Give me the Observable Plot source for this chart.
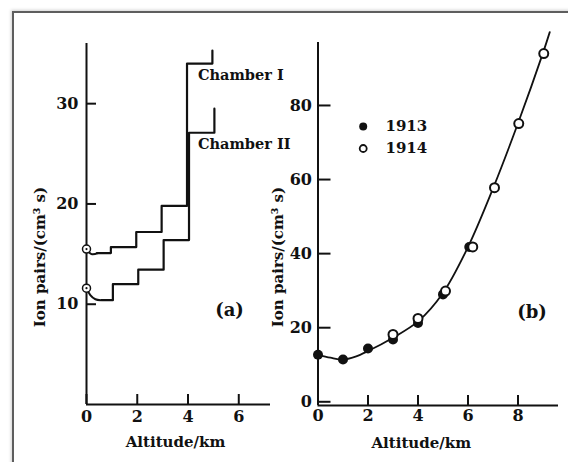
<!DOCTYPE html>
<html><head><meta charset="utf-8">
<script src="https://cdn.jsdelivr.net/npm/d3@7"></script>
<script src="https://cdn.jsdelivr.net/npm/@observablehq/plot@0.6"></script>
<style>
html,body{margin:0;padding:0;background:#fff;}
#wrap{position:relative;width:568px;height:462px;overflow:hidden;background:#fff;}
#border{position:absolute;left:12px;top:11px;right:-10px;bottom:-10px;border-top:2px solid #5e5e5e;border-left:2px solid #5e5e5e;box-shadow:-1px -1px 3px rgba(0,0,0,0.18);}
.panel{position:absolute;top:0;}
.panel svg{overflow:visible;}
</style></head><body>
<div id="wrap"><div id="border"></div><div id="pa" class="panel" style="left:0"></div><div id="pb" class="panel" style="left:250px"></div></div>
<script>
// ---------- Panel (a): step profiles of two chambers ----------
const chamberI_groundAlt = [0, 0.2, 0.45];
const chamberI_groundIon = [15.5, 15.0, 15.1];
const chamberI_alt = [0.45, 1, 2, 3, 4, 5];
const chamberI_ion = [15.1, 15.7, 17.2, 19.8, 34.0, 35.3];

const chamberII_groundAlt = [0, 0.15, 0.35, 0.55];
const chamberII_groundIon = [11.6, 10.9, 10.5, 10.4];
const chamberII_alt = [0.55, 1, 2, 3, 4, 5];
const chamberII_ion = [10.4, 12.0, 13.45, 16.4, 27.1, 29.5];

const chamberNames = ["Chamber I", "Chamber II"];
const xTicksA = [0, 2, 4, 6];
const yTicksA = [10, 20, 30];

// ---------- Panel (b): 1913 / 1914 flights ----------
const alt1913 = [0, 1, 2, 3, 4, 5, 6.05];
const ion1913 = [12.7, 11.4, 14.4, 16.8, 21.3, 29.0, 41.8];
const alt1914 = [3, 4, 5.1, 6.19, 7.06, 8.03, 9.03];
const ion1914 = [18.2, 22.5, 29.9, 41.8, 57.8, 75.1, 94.0];
const curveAlt = [0, 0.5, 1, 1.5, 2, 3, 4, 5, 6, 7, 8, 9, 9.27];
const curveIon = [12.7, 11.9, 11.4, 12.2, 13.7, 17.3, 21.7, 29.4, 41.8, 57.6, 75.2, 94.2, 99.8];
const xTicksB = [0, 2, 4, 6, 8];
const yTicksB = [0, 20, 40, 60, 80];
const years = ["1913", "1914"];

const xLabel = "Altitude/km";
const yLabel = "Ion pairs/(cm³ s)";

const ink = "#111";
const font = "DejaVu Serif";

const zip = (xs, ys) => xs.map((x, i) => ({x, y: ys[i]}));

const xDomA = [0, 7.25], yDomA = [0, 36];
const stepI = zip(chamberI_alt, chamberI_ion), groundI = zip(chamberI_groundAlt, chamberI_groundIon);
const stepII = zip(chamberII_alt, chamberII_ion), groundII = zip(chamberII_groundAlt, chamberII_groundIon);
const chamberLabels = [
  {name: chamberNames[0], x: chamberI_alt[4], y: chamberI_ion[4]},
  {name: chamberNames[1], x: chamberII_alt[4], y: chamberII_ion[4]}
];

const plotA = Plot.plot({
  width: 300, height: 462,
  marginLeft: 86, marginRight: 30, marginTop: 43, marginBottom: 58,
  x: {domain: xDomA}, y: {domain: yDomA},
  style: {background: "transparent", fontFamily: font, fontWeight: "bold", fontSize: "15px", color: ink, overflow: "visible"},
  marks: [
    Plot.ruleX([xDomA[0]], {stroke: ink, strokeWidth: 2}),
    Plot.ruleY([yDomA[0]], {stroke: ink, strokeWidth: 2}),
    Plot.axisY({ticks: yTicksA, tickSize: -10, tickPadding: 18, label: null, stroke: ink, strokeWidth: 2, fontSize: 16}),
    Plot.axisX({ticks: xTicksA, tickSize: -10, tickPadding: 16, label: null, stroke: ink, strokeWidth: 2, fontSize: 16}),
    Plot.line(groundI, {x: "x", y: "y", curve: "natural", stroke: ink, strokeWidth: 2}),
    Plot.line(groundII, {x: "x", y: "y", curve: "natural", stroke: ink, strokeWidth: 2}),
    Plot.line(stepI, {x: "x", y: "y", curve: "step-after", stroke: ink, strokeWidth: 2.2, dx: -1}),
    Plot.line(stepII, {x: "x", y: "y", curve: "step-after", stroke: ink, strokeWidth: 2.2, dx: 1}),
    Plot.dot([groundI[0], groundII[0]], {x: "x", y: "y", r: 4, fill: "white", stroke: ink, strokeWidth: 1.5}),
    Plot.dot([groundI[0], groundII[0]], {x: "x", y: "y", r: 1.1, fill: ink}),
    Plot.text(chamberLabels, {x: "x", y: "y", text: "name", textAnchor: "start", lineAnchor: "middle", dx: 10, dy: 12, fontSize: 14.5, fill: ink}),
    Plot.text(["(a)"], {frameAnchor: "top-left", textAnchor: "middle", lineAnchor: "middle", dx: 143, dy: 267, fontSize: 18, fill: ink}),
    Plot.text([xLabel], {frameAnchor: "bottom", textAnchor: "middle", lineAnchor: "middle", dx: -3, dy: 38, fontSize: 15, fill: ink}),
    Plot.text([yLabel], {frameAnchor: "left", textAnchor: "middle", lineAnchor: "middle", rotate: -90, dx: -46, dy: 33, fontSize: 15, fill: ink})
  ]
});
document.getElementById("pa").appendChild(plotA);

const xDomB = [0, 9.62], yDomB = [-1, 97];
const pts1913 = zip(alt1913, ion1913), pts1914 = zip(alt1914, ion1914), curve = zip(curveAlt, curveIon);

const plotB = Plot.plot({
  width: 318, height: 462,
  marginLeft: 67.5, marginRight: 10, marginTop: 42, marginBottom: 57,
  x: {domain: xDomB}, y: {domain: yDomB},
  style: {background: "transparent", fontFamily: font, fontWeight: "bold", fontSize: "15px", color: ink, overflow: "visible"},
  marks: [
    Plot.ruleX([xDomB[0]], {stroke: ink, strokeWidth: 2}),
    Plot.ruleY([yDomB[0]], {stroke: ink, strokeWidth: 2}),
    Plot.axisY({ticks: yTicksB, tickSize: -13, tickPadding: 19, label: null, stroke: ink, strokeWidth: 2, fontSize: 16}),
    Plot.axisX({ticks: xTicksB, tickSize: -10, tickPadding: 14, label: null, stroke: ink, strokeWidth: 2, fontSize: 16}),
    Plot.line(curve, {x: "x", y: "y", curve: "catmull-rom", stroke: ink, strokeWidth: 1.8}),
    Plot.dot(pts1913, {x: "x", y: "y", r: 5, fill: ink}),
    Plot.dot(pts1914, {x: "x", y: "y", r: 4.5, fill: "white", stroke: ink, strokeWidth: 2}),
    Plot.dot([years[0]], {frameAnchor: "top-left", dx: 45.2, dy: 84, r: 4, fill: ink}),
    Plot.dot([years[1]], {frameAnchor: "top-left", dx: 45.2, dy: 106, r: 3.5, fill: "white", stroke: ink, strokeWidth: 1.8}),
    Plot.text([years[0]], {frameAnchor: "top-left", dx: 67.5, dy: 84, textAnchor: "start", lineAnchor: "middle", fontSize: 15, fill: ink}),
    Plot.text([years[1]], {frameAnchor: "top-left", dx: 67.5, dy: 106, textAnchor: "start", lineAnchor: "middle", fontSize: 15, fill: ink}),
    Plot.text(["(b)"], {frameAnchor: "top-left", textAnchor: "middle", lineAnchor: "middle", dx: 214, dy: 270, fontSize: 18, fill: ink}),
    Plot.text([xLabel], {frameAnchor: "bottom", textAnchor: "middle", lineAnchor: "middle", dx: -17, dy: 38, fontSize: 15, fill: ink}),
    Plot.text([yLabel], {frameAnchor: "left", textAnchor: "middle", lineAnchor: "middle", rotate: -90, dx: -40, dy: 33, fontSize: 15, fill: ink})
  ]
});
document.getElementById("pb").appendChild(plotB);
</script>
</body></html>
